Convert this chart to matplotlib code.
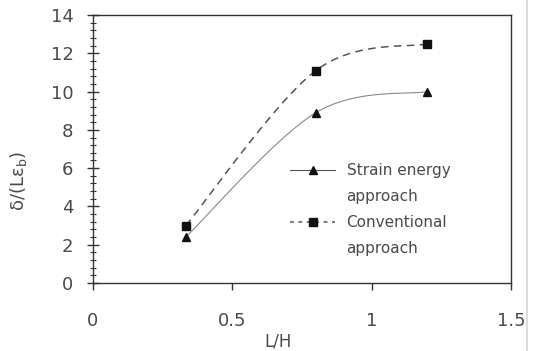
import numpy as np
import matplotlib
matplotlib.use("Agg")
import matplotlib.pyplot as plt
from matplotlib.ticker import AutoMinorLocator
from matplotlib.lines import Line2D

# Data
lh = [0.333, 0.8, 1.2]
strain_energy = [2.4, 8.9, 10.0]
conventional = [3.0, 11.1, 12.5]
legend_lines = [["Strain energy", "approach"], ["Conventional", "approach"]]
xticks = [0, 0.5, 1, 1.5]
xticklabels = ['0', '0.5', '1', '1.5']
yticks = [0, 2, 4, 6, 8, 10, 12, 14]

plt.rcParams['font.family'] = ['DejaVu Sans']
plt.rcParams['mathtext.default'] = 'regular'
TXT = '#4a4a4a'


def smooth(x, y, n=40):
    # Catmull-Rom style Bezier smoothing (like spreadsheet smoothed lines)
    x = np.asarray(x, float); y = np.asarray(y, float)
    P = np.column_stack([x, y])
    m = len(P)
    out = []
    for i in range(m - 1):
        p0 = P[i - 1] if i > 0 else P[i]
        p1 = P[i]; p2 = P[i + 1]
        p3 = P[i + 2] if i + 2 < m else P[i + 1]
        c1 = p1 + (p2 - p0) / 6.0
        c2 = p2 - (p3 - p1) / 6.0
        t = np.linspace(0, 1, n)[:, None]
        b = ((1 - t) ** 3) * p1 + 3 * ((1 - t) ** 2) * t * c1 + 3 * (1 - t) * t ** 2 * c2 + t ** 3 * p2
        out.append(b if i == 0 else b[1:])
    b = np.vstack(out)
    return b[:, 0], b[:, 1]


fig = plt.figure(figsize=(5.35, 3.51), dpi=100)
ax = fig.add_axes([93/535, 1 - 283/351, (511 - 93)/535, (283 - 15)/351])

sx, sy = smooth(lh, strain_energy)
cx, cy = smooth(lh, conventional)
ax.plot(sx, sy, color='#888888', lw=0.8, zorder=2)
ax.plot(cx, cy, color='#555555', lw=1.1, ls=(0, (5, 3.5)), zorder=2)
ax.plot(lh, strain_energy, ls='none', marker='^', ms=6, color='#111111', zorder=3)
ax.plot(lh, conventional, ls='none', marker='s', ms=6, color='#111111', zorder=3)

# legend: handles aligned with first line of each label
h1 = Line2D([], [], color='#555555', lw=0.8, marker='^', ms=6, mfc='#111111', mec='#111111')
h2 = Line2D([], [], color='#555555', lw=1.1, ls=(0, (2.5, 3)), marker='s', ms=6, mfc='#111111', mec='#111111')
blank = Line2D([], [], color='none')
handles = [h1, blank, h2, blank]
labels = [legend_lines[0][0], legend_lines[0][1], legend_lines[1][0], legend_lines[1][1]]
leg = ax.legend(handles, labels, loc='upper left', bbox_to_anchor=(290/535, 1 - 163/351),
                bbox_transform=fig.transFigure, frameon=False, fontsize=11,
                handlelength=2.95, handletextpad=0.75, labelspacing=0.72,
                borderpad=0, borderaxespad=0, labelcolor=TXT)

ax.set_xlim(0, 1.5)
ax.set_ylim(0, 14)
ax.set_xticks(xticks)
ax.set_xticklabels(xticklabels)
ax.set_yticks(yticks)
ax.yaxis.set_minor_locator(AutoMinorLocator(5))

ax.tick_params(axis='y', which='major', direction='inout', length=8, width=1, color='#333333',
               labelsize=13, labelcolor=TXT, pad=10)
ax.tick_params(axis='y', which='minor', direction='inout', length=5, width=0.8, color='#333333')
ax.tick_params(axis='x', which='major', direction='out', length=5, width=1, color='#333333',
               labelsize=13, labelcolor=TXT, pad=16)

for s in ax.spines.values():
    s.set_color('#333333')
    s.set_linewidth(1.0)

ax.set_xlabel('L/H', fontsize=12, color=TXT)
ax.xaxis.set_label_coords(0.443, -0.185)
ax.set_ylabel(r'δ/(Lε$_{b}$)', fontsize=13, color=TXT)
ax.yaxis.set_label_coords(-0.152, 0.38)

# faint scan edge line at right
fig.add_artist(Line2D([527/535, 527/535], [0, 1], color='#dddddd', lw=1.5))

fig.savefig('out.png', dpi=100)
